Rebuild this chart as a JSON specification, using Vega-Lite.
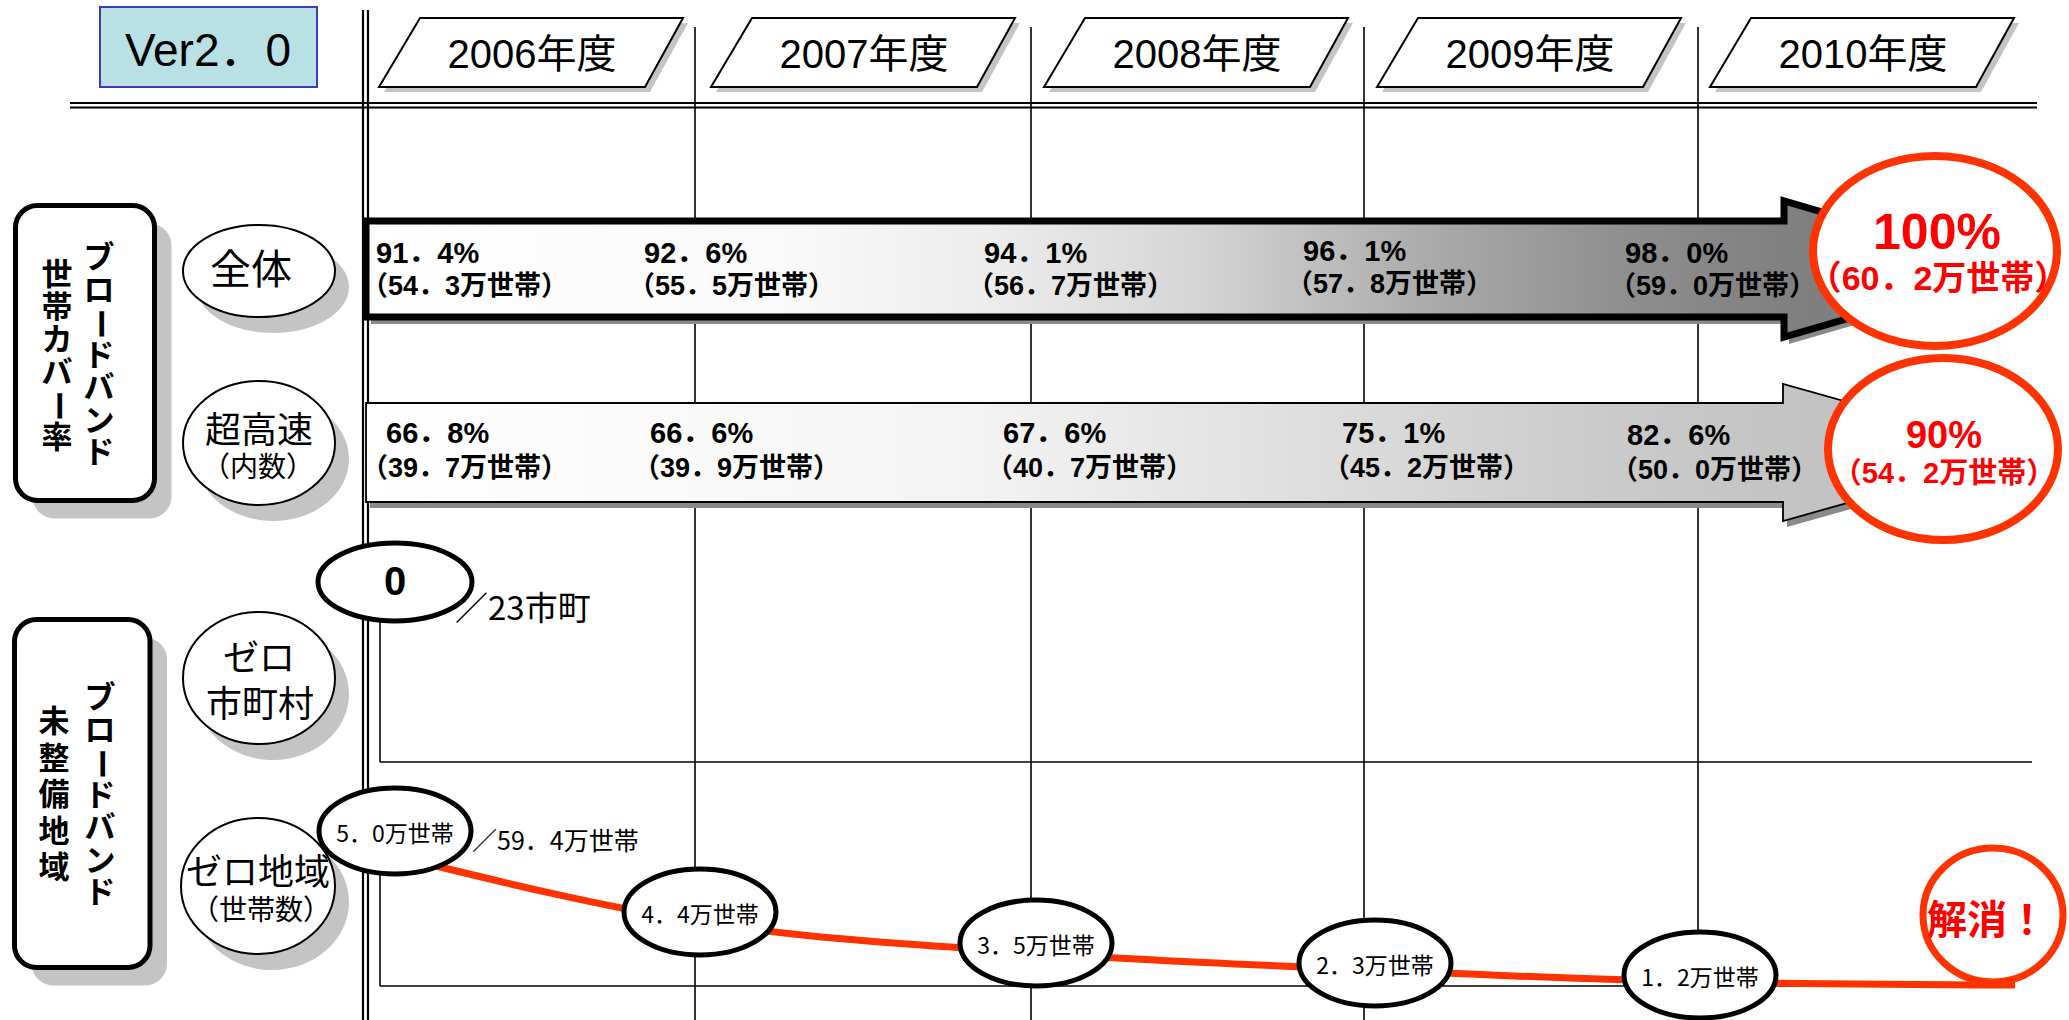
{
  "$schema": "https://vega.github.io/schema/vega-lite/v6.json",
  "width": 2069,
  "height": 1020,
  "autosize": {"type": "none"},
  "padding": 0,
  "background": "#ffffff",
  "config": {"view": {"stroke": null}, "font": "Noto Sans CJK JP", "text": {"font": "Noto Sans CJK JP"}},
  "datasets": {
    "headers": [
      {"fy": "2006年度", "x": 532, "y": 52.5},
      {"fy": "2007年度", "x": 864, "y": 52.5},
      {"fy": "2008年度", "x": 1197, "y": 52.5},
      {"fy": "2009年度", "x": 1530, "y": 52.5},
      {"fy": "2010年度", "x": 1863, "y": 52.5}
    ],
    "boxes": [
      {"group": "カバー率", "x": 15.5, "y": 205.5, "x2": 154.5, "y2": 500.5},
      {"group": "未整備地域", "x": 14.5, "y": 619.5, "x2": 150, "y2": 967.5}
    ],
    "bubbles": [
      {"label": "全体", "x": 259, "y": 271},
      {"label": "超高速", "x": 259, "y": 443},
      {"label": "ゼロ市町村", "x": 259, "y": 678},
      {"label": "ゼロ地域", "x": 258, "y": 886}
    ],
    "arrowAll": [{"series": "全体", "x": 1192, "y": 269}],
    "arrowFast": [{"series": "超高速", "x": 1196, "y": 452.5}]
  },
  "encoding": {
    "x": {"field": "x", "type": "quantitative", "scale": {"domain": [0, 2069], "nice": false, "zero": false}, "axis": null},
    "y": {"field": "y", "type": "quantitative", "scale": {"domain": [0, 1020], "nice": false, "zero": false, "reverse": true}, "axis": null}
  },
  "layer": [
    {
      "data": {"values": [
        {"x": 695, "y": 27, "x2": 695, "y2": 1020},
        {"x": 1031, "y": 27, "x2": 1031, "y2": 1020},
        {"x": 1364, "y": 27, "x2": 1364, "y2": 1020},
        {"x": 1698, "y": 27, "x2": 1698, "y2": 1020},
        {"x": 380, "y": 622, "x2": 380, "y2": 762},
        {"x": 380, "y": 762, "x2": 2032, "y2": 762},
        {"x": 380, "y": 875, "x2": 380, "y2": 986},
        {"x": 380, "y": 986, "x2": 2015, "y2": 986}
      ]},
      "mark": {"type": "rule", "color": "#000000", "strokeWidth": 1.6},
      "encoding": {"x2": {"field": "x2"}, "y2": {"field": "y2"}}
    },
    {
      "data": {"values": [
        {"x": 363, "y": 10, "x2": 363, "y2": 1020},
        {"x": 368, "y": 10, "x2": 368, "y2": 1020},
        {"x": 70, "y": 103, "x2": 2037, "y2": 103},
        {"x": 70, "y": 107.5, "x2": 2037, "y2": 107.5}
      ]},
      "mark": {"type": "rule", "color": "#000000", "strokeWidth": 2.2},
      "encoding": {"x2": {"field": "x2"}, "y2": {"field": "y2"}}
    },
    {
      "data": {"values": [{"x": 100, "y": 7, "x2": 317, "y2": 87}]},
      "mark": {"type": "rect", "fill": "#b9e1e5", "stroke": "#3c3caa", "strokeWidth": 2},
      "encoding": {"x2": {"field": "x2"}, "y2": {"field": "y2"}}
    },
    {
      "data": {"values": [{"t": "Ver2．0", "x": 208, "y": 52}]},
      "mark": {"type": "text", "font": "Liberation Sans, Noto Sans CJK JP", "fontSize": 46, "color": "#000000"},
      "encoding": {"text": {"field": "t"}}
    },
    {
      "data": {"name": "headers"},
      "mark": {"type": "point", "shape": "M -1.12 -0.345 L 1.51 -0.345 L 1.13 0.345 L -1.53 0.345 Z", "size": 40000, "filled": true, "fill": "#c4c4c4", "strokeWidth": 0, "opacity": 1, "xOffset": 5, "yOffset": 5}
    },
    {
      "data": {"name": "headers"},
      "mark": {"type": "point", "shape": "M -1.12 -0.345 L 1.51 -0.345 L 1.13 0.345 L -1.53 0.345 Z", "size": 40000, "filled": true, "fill": "#ffffff", "stroke": "#000000", "strokeWidth": 2, "opacity": 1}
    },
    {
      "data": {"name": "headers"},
      "mark": {"type": "text", "font": "Liberation Sans, Noto Sans CJK JP", "fontSize": 40, "dy": 3.5, "color": "#000000"},
      "encoding": {"text": {"field": "fy"}}
    },
    {
      "data": {"name": "boxes"},
      "mark": {"type": "rect", "fill": "#c4c4c4", "cornerRadius": 22, "xOffset": 17, "x2Offset": 17, "yOffset": 18, "y2Offset": 18},
      "encoding": {"x2": {"field": "x2"}, "y2": {"field": "y2"}}
    },
    {
      "data": {"name": "boxes"},
      "mark": {"type": "rect", "fill": "#ffffff", "stroke": "#000000", "strokeWidth": 5, "cornerRadius": 22},
      "encoding": {"x2": {"field": "x2"}, "y2": {"field": "y2"}}
    },
    {
      "data": {"values": [
        {"ch": "ブ", "x": 99, "y": 259},
        {"ch": "ロ", "x": 99, "y": 291.5},
        {"ch": "ド", "x": 99, "y": 356.5},
        {"ch": "バ", "x": 99, "y": 389},
        {"ch": "ン", "x": 99, "y": 421.5},
        {"ch": "ド", "x": 99, "y": 454},
        {"ch": "世", "x": 57, "y": 276},
        {"ch": "帯", "x": 57, "y": 308.5},
        {"ch": "カ", "x": 57, "y": 341},
        {"ch": "バ", "x": 57, "y": 373.5},
        {"ch": "率", "x": 57, "y": 438.5},
        {"ch": "ブ", "x": 100, "y": 699},
        {"ch": "ロ", "x": 100, "y": 731.5},
        {"ch": "ド", "x": 100, "y": 796.5},
        {"ch": "バ", "x": 100, "y": 829},
        {"ch": "ン", "x": 100, "y": 861.5},
        {"ch": "ド", "x": 100, "y": 894},
        {"ch": "未", "x": 54, "y": 723},
        {"ch": "整", "x": 54, "y": 759.5},
        {"ch": "備", "x": 54, "y": 796},
        {"ch": "地", "x": 54, "y": 832.5},
        {"ch": "域", "x": 54, "y": 869}
      ]},
      "mark": {"type": "text", "fontSize": 31, "fontWeight": "bold", "color": "#000000"},
      "encoding": {"text": {"field": "ch"}}
    },
    {
      "data": {"values": [
        {"ch": "ー", "x": 99, "y": 324},
        {"ch": "ー", "x": 57, "y": 406},
        {"ch": "ー", "x": 100, "y": 764}
      ]},
      "mark": {"type": "text", "fontSize": 31, "fontWeight": "bold", "angle": 90, "color": "#000000"},
      "encoding": {"text": {"field": "ch"}}
    },
    {
      "data": {"name": "bubbles"},
      "mark": {"type": "point", "size": 40000, "filled": true, "fill": "#c4c4c4", "strokeWidth": 0, "opacity": 1, "xOffset": 14, "yOffset": 16},
      "encoding": {"shape": {"field": "label", "type": "nominal", "legend": null, "scale": {"domain": ["全体", "超高速", "ゼロ市町村", "ゼロ地域"], "range": [
        "M -0.76 0 C -0.76 -0.2541 -0.4197 -0.46 0 -0.46 C 0.4197 -0.46 0.76 -0.2541 0.76 0 C 0.76 0.2541 0.4197 0.46 0 0.46 C -0.4197 0.46 -0.76 0.2541 -0.76 0 Z",
        "M -0.76 0 C -0.76 -0.3424 -0.4197 -0.62 0 -0.62 C 0.4197 -0.62 0.76 -0.3424 0.76 0 C 0.76 0.3424 0.4197 0.62 0 0.62 C -0.4197 0.62 -0.76 0.3424 -0.76 0 Z",
        "M -0.76 0 C -0.76 -0.3645 -0.4197 -0.66 0 -0.66 C 0.4197 -0.66 0.76 -0.3645 0.76 0 C 0.76 0.3645 0.4197 0.66 0 0.66 C -0.4197 0.66 -0.76 0.3645 -0.76 0 Z",
        "M -0.77 0 C -0.77 -0.3756 -0.4253 -0.68 0 -0.68 C 0.4253 -0.68 0.77 -0.3756 0.77 0 C 0.77 0.3756 0.4253 0.68 0 0.68 C -0.4253 0.68 -0.77 0.3756 -0.77 0 Z"
      ]}}}
    },
    {
      "data": {"name": "bubbles"},
      "mark": {"type": "point", "size": 40000, "filled": true, "fill": "#ffffff", "stroke": "#000000", "strokeWidth": 2, "opacity": 1},
      "encoding": {"shape": {"field": "label", "type": "nominal", "legend": null, "scale": {"domain": ["全体", "超高速", "ゼロ市町村", "ゼロ地域"], "range": [
        "M -0.76 0 C -0.76 -0.2541 -0.4197 -0.46 0 -0.46 C 0.4197 -0.46 0.76 -0.2541 0.76 0 C 0.76 0.2541 0.4197 0.46 0 0.46 C -0.4197 0.46 -0.76 0.2541 -0.76 0 Z",
        "M -0.76 0 C -0.76 -0.3424 -0.4197 -0.62 0 -0.62 C 0.4197 -0.62 0.76 -0.3424 0.76 0 C 0.76 0.3424 0.4197 0.62 0 0.62 C -0.4197 0.62 -0.76 0.3424 -0.76 0 Z",
        "M -0.76 0 C -0.76 -0.3645 -0.4197 -0.66 0 -0.66 C 0.4197 -0.66 0.76 -0.3645 0.76 0 C 0.76 0.3645 0.4197 0.66 0 0.66 C -0.4197 0.66 -0.76 0.3645 -0.76 0 Z",
        "M -0.77 0 C -0.77 -0.3756 -0.4253 -0.68 0 -0.68 C 0.4253 -0.68 0.77 -0.3756 0.77 0 C 0.77 0.3756 0.4253 0.68 0 0.68 C -0.4253 0.68 -0.77 0.3756 -0.77 0 Z"
      ]}}}
    },
    {
      "data": {"values": [{"t": "全体", "x": 251, "y": 272}]},
      "mark": {"type": "text", "fontSize": 41, "color": "#000000"},
      "encoding": {"text": {"field": "t"}}
    },
    {
      "data": {"values": [
        {"t": "超高速", "x": 259, "y": 432},
        {"t": "ゼロ", "x": 259, "y": 660},
        {"t": "市町村", "x": 260, "y": 706},
        {"t": "ゼロ地域", "x": 258, "y": 874}
      ]},
      "mark": {"type": "text", "fontSize": 36, "color": "#000000"},
      "encoding": {"text": {"field": "t"}}
    },
    {
      "data": {"values": [
        {"t": "（内数）", "x": 258, "y": 469},
        {"t": "（世帯数）", "x": 261, "y": 912}
      ]},
      "mark": {"type": "text", "fontSize": 28, "color": "#000000"},
      "encoding": {"text": {"field": "t"}}
    },
    {
      "data": {"name": "arrowAll"},
      "mark": {"type": "point", "shape": "M -8.26 -0.48 L 5.92 -0.48 L 5.92 -0.68 L 8.26 0 L 5.92 0.68 L 5.92 0.48 L -8.26 0.48 Z", "size": 40000, "filled": true, "fill": "#8a8a8a", "strokeWidth": 0, "opacity": 1, "xOffset": 5, "yOffset": 7}
    },
    {
      "data": {"name": "arrowAll"},
      "mark": {"type": "point", "shape": "M -8.26 -0.48 L 5.92 -0.48 L 5.92 -0.68 L 8.26 0 L 5.92 0.68 L 5.92 0.48 L -8.26 0.48 Z", "size": 40000, "filled": true, "opacity": 1, "stroke": "#000000", "strokeWidth": 7, "strokeJoin": "miter",
        "fill": {"gradient": "linear", "x1": 0, "y1": 0, "x2": 1, "y2": 0, "stops": [
          {"offset": 0, "color": "#ffffff"},
          {"offset": 0.25, "color": "#fafafa"},
          {"offset": 0.38, "color": "#ececec"},
          {"offset": 0.5, "color": "#d6d6d6"},
          {"offset": 0.565, "color": "#c2c2c2"},
          {"offset": 0.65, "color": "#a9a9a9"},
          {"offset": 0.76, "color": "#8f8f8f"},
          {"offset": 0.86, "color": "#808080"},
          {"offset": 1, "color": "#787878"}
        ]}}
    },
    {
      "data": {"name": "arrowFast"},
      "mark": {"type": "point", "shape": "M -8.3 -0.495 L 5.87 -0.495 L 5.87 -0.685 L 8.31 0 L 5.87 0.685 L 5.87 0.495 L -8.3 0.495 Z", "size": 40000, "filled": true, "fill": "#8a8a8a", "strokeWidth": 0, "opacity": 1, "xOffset": 4, "yOffset": 6}
    },
    {
      "data": {"name": "arrowFast"},
      "mark": {"type": "point", "shape": "M -8.3 -0.495 L 5.87 -0.495 L 5.87 -0.685 L 8.31 0 L 5.87 0.685 L 5.87 0.495 L -8.3 0.495 Z", "size": 40000, "filled": true, "opacity": 1, "stroke": "#000000", "strokeWidth": 1.8, "strokeJoin": "miter",
        "fill": {"gradient": "linear", "x1": 0, "y1": 0, "x2": 1, "y2": 0, "stops": [
          {"offset": 0, "color": "#ffffff"},
          {"offset": 0.35, "color": "#f5f5f5"},
          {"offset": 0.55, "color": "#e0e0e0"},
          {"offset": 0.75, "color": "#cacaca"},
          {"offset": 1, "color": "#bbbbbb"}
        ]}}
    },
    {
      "data": {"values": [
        {"series": "全体", "fy": 2006, "t": "91．4%", "x": 376, "y": 254},
        {"series": "全体", "fy": 2007, "t": "92．6%", "x": 644, "y": 254},
        {"series": "全体", "fy": 2008, "t": "94．1%", "x": 984, "y": 254},
        {"series": "全体", "fy": 2009, "t": "96．1%", "x": 1303, "y": 252},
        {"series": "全体", "fy": 2010, "t": "98．0%", "x": 1625, "y": 254},
        {"series": "超高速", "fy": 2006, "t": "66．8%", "x": 386, "y": 434},
        {"series": "超高速", "fy": 2007, "t": "66．6%", "x": 650, "y": 434},
        {"series": "超高速", "fy": 2008, "t": "67．6%", "x": 1003, "y": 434},
        {"series": "超高速", "fy": 2009, "t": "75．1%", "x": 1342, "y": 434},
        {"series": "超高速", "fy": 2010, "t": "82．6%", "x": 1627, "y": 436}
      ]},
      "mark": {"type": "text", "align": "left", "font": "Liberation Sans, Noto Sans CJK JP", "fontSize": 29, "fontWeight": "bold", "color": "#000000"},
      "encoding": {"text": {"field": "t"}}
    },
    {
      "data": {"values": [
        {"series": "全体", "fy": 2006, "t": "（54．3万世帯）", "x": 361, "y": 287},
        {"series": "全体", "fy": 2007, "t": "（55．5万世帯）", "x": 628, "y": 287},
        {"series": "全体", "fy": 2008, "t": "（56．7万世帯）", "x": 967, "y": 287},
        {"series": "全体", "fy": 2009, "t": "（57．8万世帯）", "x": 1286, "y": 285},
        {"series": "全体", "fy": 2010, "t": "（59．0万世帯）", "x": 1609, "y": 287},
        {"series": "超高速", "fy": 2006, "t": "（39．7万世帯）", "x": 361, "y": 469},
        {"series": "超高速", "fy": 2007, "t": "（39．9万世帯）", "x": 633, "y": 469},
        {"series": "超高速", "fy": 2008, "t": "（40．7万世帯）", "x": 986, "y": 469},
        {"series": "超高速", "fy": 2009, "t": "（45．2万世帯）", "x": 1323, "y": 469},
        {"series": "超高速", "fy": 2010, "t": "（50．0万世帯）", "x": 1611, "y": 471}
      ]},
      "mark": {"type": "text", "align": "left", "font": "Liberation Sans, Noto Sans CJK JP", "fontSize": 27, "fontWeight": "bold", "color": "#000000"},
      "encoding": {"text": {"field": "t"}}
    },
    {
      "data": {"values": [{"goal": "100%", "x": 1935, "y": 251}]},
      "mark": {"type": "point", "shape": "M -1.22 0 C -1.22 -0.5247 -0.6738 -0.95 0 -0.95 C 0.6738 -0.95 1.22 -0.5247 1.22 0 C 1.22 0.5247 0.6738 0.95 0 0.95 C -0.6738 0.95 -1.22 0.5247 -1.22 0 Z", "size": 40000, "filled": true, "fill": "#ffffff", "stroke": "#ff3300", "strokeWidth": 8, "opacity": 1}
    },
    {
      "data": {"values": [{"goal": "90%", "x": 1943, "y": 449}]},
      "mark": {"type": "point", "shape": "M -1.15 0 C -1.15 -0.5026 -0.6351 -0.91 0 -0.91 C 0.6351 -0.91 1.15 -0.5026 1.15 0 C 1.15 0.5026 0.6351 0.91 0 0.91 C -0.6351 0.91 -1.15 0.5026 -1.15 0 Z", "size": 40000, "filled": true, "fill": "#ffffff", "stroke": "#ff3300", "strokeWidth": 8, "opacity": 1}
    },
    {
      "data": {"values": [
        {"fy": 2006, "x": 395, "y": 856},
        {"fy": 2007, "x": 700, "y": 922},
        {"fy": 2008, "x": 1036, "y": 953},
        {"fy": 2009, "x": 1375, "y": 970},
        {"fy": 2010, "x": 1700, "y": 982},
        {"fy": 2011, "x": 2015, "y": 985}
      ]},
      "mark": {"type": "line", "interpolate": "monotone", "color": "#ff3300", "strokeWidth": 7, "strokeCap": "butt"}
    },
    {
      "data": {"values": [{"kind": "zero", "x": 395, "y": 582}]},
      "mark": {"type": "point", "shape": "M -0.77 0 C -0.77 -0.2154 -0.4253 -0.39 0 -0.39 C 0.4253 -0.39 0.77 -0.2154 0.77 0 C 0.77 0.2154 0.4253 0.39 0 0.39 C -0.4253 0.39 -0.77 0.2154 -0.77 0 Z", "size": 40000, "filled": true, "fill": "#ffffff", "stroke": "#000000", "strokeWidth": 5, "opacity": 1}
    },
    {
      "data": {"values": [{"t": "0", "x": 395, "y": 582}]},
      "mark": {"type": "text", "font": "Liberation Sans, Noto Sans CJK JP", "fontSize": 40, "fontWeight": "bold", "dy": 1, "color": "#000000"},
      "encoding": {"text": {"field": "t"}}
    },
    {
      "data": {"values": [
        {"fy": 2006, "t": "5．0万世帯", "x": 395, "y": 831},
        {"fy": 2007, "t": "4．4万世帯", "x": 700, "y": 912},
        {"fy": 2008, "t": "3．5万世帯", "x": 1036, "y": 943},
        {"fy": 2009, "t": "2．3万世帯", "x": 1375, "y": 963},
        {"fy": 2010, "t": "1．2万世帯", "x": 1700, "y": 975}
      ]},
      "layer": [
        {"mark": {"type": "point", "shape": "M -0.76 0 C -0.76 -0.2375 -0.4197 -0.43 0 -0.43 C 0.4197 -0.43 0.76 -0.2375 0.76 0 C 0.76 0.2375 0.4197 0.43 0 0.43 C -0.4197 0.43 -0.76 0.2375 -0.76 0 Z", "size": 40000, "filled": true, "fill": "#ffffff", "stroke": "#000000", "strokeWidth": 5, "opacity": 1}},
        {"mark": {"type": "text", "fontSize": 23, "dy": 4, "color": "#000000"}, "encoding": {"text": {"field": "t"}}}
      ]
    },
    {
      "data": {"values": [{"goal": "解消", "x": 1993, "y": 915}]},
      "mark": {"type": "point", "shape": "M -0.7 0 C -0.7 -0.37 -0.3866 -0.67 0 -0.67 C 0.3866 -0.67 0.7 -0.37 0.7 0 C 0.7 0.37 0.3866 0.67 0 0.67 C -0.3866 0.67 -0.7 0.37 -0.7 0 Z", "size": 40000, "filled": true, "fill": "#ffffff", "stroke": "#ff3300", "strokeWidth": 7, "opacity": 1}
    },
    {
      "data": {"values": [{"t": "100%", "x": 1937, "y": 234}]},
      "mark": {"type": "text", "font": "Liberation Sans, Noto Sans CJK JP", "fontSize": 50, "fontWeight": "bold", "color": "#ff0000"},
      "encoding": {"text": {"field": "t"}}
    },
    {
      "data": {"values": [{"t": "（60．2万世帯）", "x": 1938, "y": 280}]},
      "mark": {"type": "text", "font": "Liberation Sans, Noto Sans CJK JP", "fontSize": 34, "fontWeight": "bold", "color": "#ff0000"},
      "encoding": {"text": {"field": "t"}}
    },
    {
      "data": {"values": [{"t": "90%", "x": 1944, "y": 437}]},
      "mark": {"type": "text", "font": "Liberation Sans, Noto Sans CJK JP", "fontSize": 38, "fontWeight": "bold", "color": "#ff0000"},
      "encoding": {"text": {"field": "t"}}
    },
    {
      "data": {"values": [{"t": "（54．2万世帯）", "x": 1944, "y": 474}]},
      "mark": {"type": "text", "font": "Liberation Sans, Noto Sans CJK JP", "fontSize": 29, "fontWeight": "bold", "color": "#ff0000"},
      "encoding": {"text": {"field": "t"}}
    },
    {
      "data": {"values": [{"t": "解消！", "x": 1987, "y": 922}]},
      "mark": {"type": "text", "fontSize": 40, "fontWeight": "bold", "color": "#ff0000"},
      "encoding": {"text": {"field": "t"}}
    },
    {
      "data": {"values": [{"t": "／23市町", "x": 455, "y": 610}]},
      "mark": {"type": "text", "align": "left", "fontSize": 33, "color": "#000000"},
      "encoding": {"text": {"field": "t"}}
    },
    {
      "data": {"values": [{"t": "／59．4万世帯", "x": 472, "y": 842}]},
      "mark": {"type": "text", "align": "left", "fontSize": 25, "color": "#000000"},
      "encoding": {"text": {"field": "t"}}
    }
  ]
}
